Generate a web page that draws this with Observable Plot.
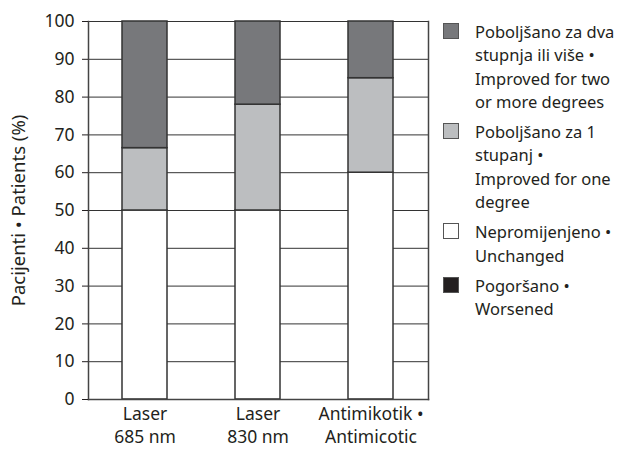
<!DOCTYPE html>
<html>
<head>
<meta charset="utf-8">
<script src="https://cdn.jsdelivr.net/npm/d3@7"></script>
<script src="https://cdn.jsdelivr.net/npm/@observablehq/plot@0.6"></script>
<style>
  body { margin: 0; background: #fff; font-family: "Noto Sans", sans-serif; }
  #wrap { position: relative; width: 632px; height: 450px; }
  #legend { position: absolute; left: 443px; top: 20px; font-size: 16.5px; line-height: 23.3px; color: #231f20; }
  .item { position: relative; padding-left: 32px; margin-bottom: 7px; }
  .sw { position: absolute; left: 0; top: 3px; width: 16px; height: 16px; border: 1px solid #555; box-sizing: border-box; }
</style>
</head>
<body>
<div id="wrap"><div id="chart"></div><div id="legend"></div></div>
<script>
const categories = ["Laser\n685 nm", "Laser\n830 nm", "Antimikotik •\nAntimicotic"];
const seriesNames = [
  "Nepromijenjeno • Unchanged",
  "Poboljšano za 1 stupanj • Improved for one degree",
  "Poboljšano za dva stupnja ili više • Improved for two or more degrees",
  "Pogoršano • Worsened"
];
const unchanged = [50, 50, 60];
const improvedOne = [16.5, 28, 25];
const improvedTwo = [33.5, 22, 15];
const worsened = [0, 0, 0];
const seriesColors = ["#ffffff", "#bcbec0", "#77787b", "#231f20"];
const yTicks = [0, 10, 20, 30, 40, 50, 60, 70, 80, 90, 100];
const legendLines = [
  ["Poboljšano za dva", "stupnja ili više •", "Improved for two", "or more degrees"],
  ["Poboljšano za 1", "stupanj •", "Improved for one", "degree"],
  ["Nepromijenjeno •", "Unchanged"],
  ["Pogoršano •", "Worsened"]
];
const legendColors = ["#77787b", "#bcbec0", "#ffffff", "#231f20"];

const seriesValues = [unchanged, improvedOne, improvedTwo, worsened];
const data = [];
seriesValues.forEach((vals, s) => {
  categories.forEach((c, i) => {
    if (vals[i] > 0) data.push({category: c, series: seriesNames[s], value: vals[i]});
  });
});

const chart = Plot.plot({
  width: 632,
  height: 450,
  marginLeft: 88,
  marginRight: 204,
  marginTop: 21,
  marginBottom: 51,
  style: {fontFamily: "Noto Sans, sans-serif", fontSize: "17.5px", color: "#231f20", background: "#fff"},
  x: {domain: categories, paddingInner: 0.6, paddingOuter: 0.3},
  y: {domain: [0, 100]},
  color: {domain: seriesNames, range: seriesColors},
  marks: [
    Plot.ruleY(yTicks, {stroke: "#333", strokeWidth: 1}),
    Plot.barY(data, {x: "category", y: "value", fill: "series", stroke: "#333", strokeWidth: 1.5}),
    Plot.frame({anchor: "left", stroke: "#444", strokeWidth: 1.5}),
    Plot.frame({anchor: "right", stroke: "#444", strokeWidth: 1.5}),
    Plot.frame({anchor: "bottom", stroke: "#444", strokeWidth: 1.5}),
    Plot.axisY({ticks: yTicks, tickSize: 6, tickPadding: 8, label: null, fontSize: 17.5}),
    Plot.axisY({ticks: [], tickSize: 0, label: "Pacijenti • Patients (%)", labelAnchor: "center", labelArrow: "none", labelOffset: 77, fontSize: 18.5}),
    Plot.axisX({tickSize: 0, tickPadding: 5, label: null, lineHeight: 1.28, fontSize: 17.5})
  ]
});
document.getElementById("chart").appendChild(chart);

const legend = document.getElementById("legend");
legendLines.forEach((lines, i) => {
  const item = document.createElement("div");
  item.className = "item";
  const sw = document.createElement("div");
  sw.className = "sw";
  sw.style.background = legendColors[i];
  item.appendChild(sw);
  lines.forEach(l => {
    const d = document.createElement("div");
    d.textContent = l;
    item.appendChild(d);
  });
  legend.appendChild(item);
});
</script>
</body>
</html>
